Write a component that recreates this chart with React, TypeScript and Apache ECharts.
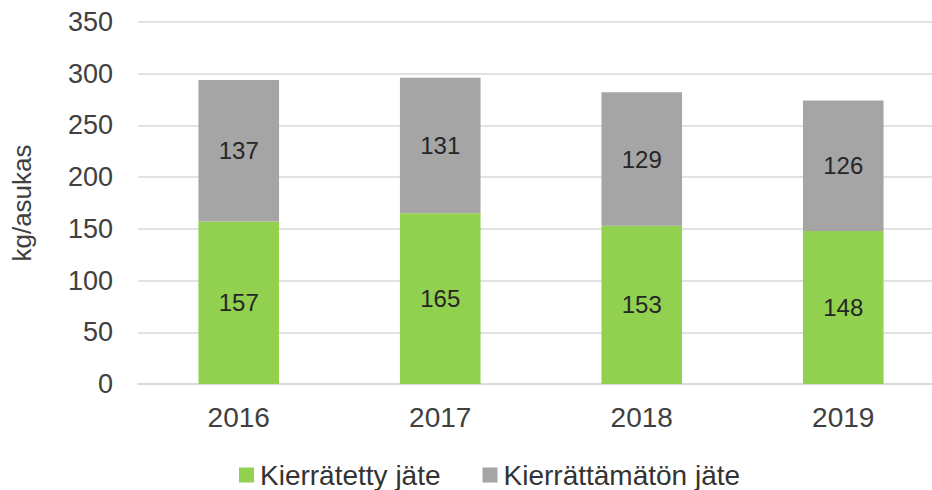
import React, { useEffect, useRef } from "react";
import * as echarts from "echarts";

const years = ["2016", "2017", "2018", "2019"];
const recycled = [157, 165, 153, 148];
const nonRecycled = [137, 131, 129, 126];
const yTicks = { min: 0, max: 350, interval: 50 };

export default function App() {
  const ref = useRef<HTMLDivElement>(null);
  useEffect(() => {
    const chart = echarts.init(ref.current!, null, { renderer: "svg" });
    const font = "Liberation Sans, Arial, sans-serif";
    const label = {
      show: true,
      position: "inside",
      color: "#262626",
      fontSize: 24,
      fontFamily: font,
    };
    chart.setOption({
      animation: false,
      textStyle: { fontFamily: font },
      grid: { left: 138, top: 22, right: 0, bottom: 106, containLabel: false },
      legend: {
        top: 461,
        left: 239,
        padding: 0,
        itemWidth: 15,
        itemHeight: 15,
        itemGap: 42,
        icon: "rect",
        textStyle: { fontSize: 28, color: "#333333", fontFamily: font, padding: [0, 0, 0, 1] },
        data: ["Kierrätetty jäte", "Kierrättämätön jäte"],
      },
      xAxis: {
        type: "category",
        data: years,
        axisTick: { show: false },
        axisLine: { lineStyle: { color: "#D9D9D9", width: 1.5 } },
        axisLabel: { fontSize: 28, color: "#404040", margin: 19, fontFamily: font },
      },
      yAxis: {
        type: "value",
        min: yTicks.min,
        max: yTicks.max,
        interval: yTicks.interval,
        name: "kg/asukas",
        nameLocation: "middle",
        nameGap: 103,
        nameRotate: 90,
        nameTextStyle: { fontSize: 26, color: "#404040", fontFamily: font },
        axisLabel: { fontSize: 27, color: "#404040", margin: 25, fontFamily: font },
        splitLine: { lineStyle: { color: "#D9D9D9", width: 1.5 } },
        axisLine: { show: false },
        axisTick: { show: false },
      },
      series: [
        {
          name: "Kierrätetty jäte",
          type: "bar",
          stack: "t",
          data: recycled,
          barWidth: "40%",
          itemStyle: { color: "#92D050" },
          label,
        },
        {
          name: "Kierrättämätön jäte",
          type: "bar",
          stack: "t",
          data: nonRecycled,
          barWidth: "40%",
          itemStyle: { color: "#A5A5A5" },
          label,
        },
      ],
    });
    return () => chart.dispose();
  }, []);
  return (
    <div style={{ width: 932, height: 490, position: "absolute", left: 0, top: 0, overflow: "hidden" }}>
      <div ref={ref} style={{ width: 944, height: 490 }} />
    </div>
  );
}
